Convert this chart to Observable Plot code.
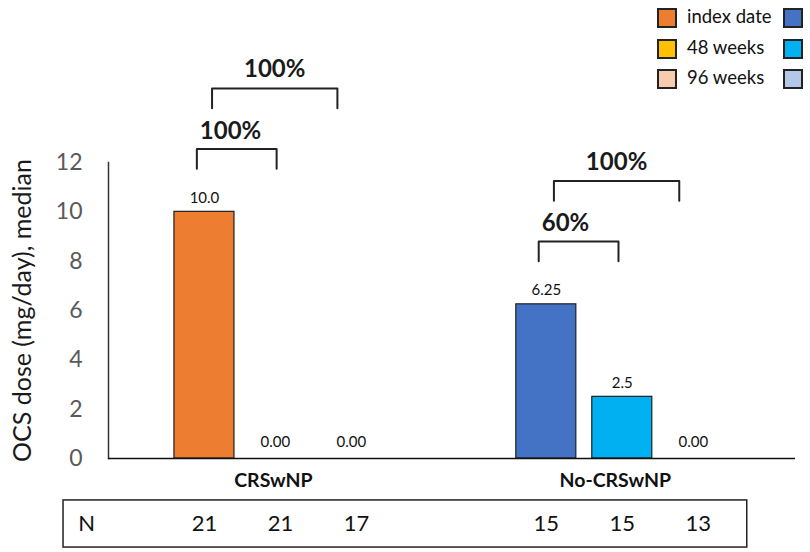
<!DOCTYPE html>
<html>
<head>
<meta charset="utf-8">
<script src="https://cdn.jsdelivr.net/npm/d3@7"></script>
<script src="https://cdn.jsdelivr.net/npm/@observablehq/plot@0.6"></script>
<style>
  html, body { margin: 0; padding: 0; background: #fff; }
  #wrap { position: relative; width: 810px; height: 552px; font-family: Lato, "Open Sans", sans-serif; }
  #legend { position: absolute; left: 657px; top: 8px; }
  .lrow { position: absolute; height: 20px; width: 150px; }
  .sw { position: absolute; width: 20px; height: 20px; box-sizing: border-box; border: 2px solid #222; }
  .lt { position: absolute; left: 30px; top: -3px; font-size: 18.5px; color: #111; white-space: nowrap; }
  svg g[aria-label="y-axis tick label"] { fill: #595959; }
</style>
</head>
<body>
<div id="wrap"><div id="legend"></div></div>
<script>
// ---- data ----
const groups = ["CRSwNP", "No-CRSwNP"];
const timepoints = ["index date", "48 weeks", "96 weeks"];
const crswnpDose = [10.0, 0.00, 0.00];
const noCrswnpDose = [6.25, 2.5, 0.00];
const crswnpLabels = ["10.0", "0.00", "0.00"];
const noCrswnpLabels = ["6.25", "2.5", "0.00"];
const crswnpN = [21, 21, 17];
const noCrswnpN = [15, 15, 13];
const crswnpReduction = ["100%", "100%"];   // vs index date at 48 and 96 weeks
const noCrswnpReduction = ["60%", "100%"];
const yTicks = [0, 2, 4, 6, 8, 10, 12];
const yTitle = "OCS dose (mg/day), median";

// ---- styles ----
const palette = {
  "CRSwNP": ["#ED7D31", "#FFC000", "#F8CBAD"],
  "No-CRSwNP": ["#4472C4", "#00B0F0", "#B4C7E7"]
};
const groupGap = 4.5;

const doses = [crswnpDose, noCrswnpDose];
const labels = [crswnpLabels, noCrswnpLabels];
const counts = [crswnpN, noCrswnpN];
const reductions = [crswnpReduction, noCrswnpReduction];
const slot = (g, t) => g * groupGap + t;

const bars = [];
groups.forEach((g, gi) => timepoints.forEach((t, ti) => bars.push({
  group: g, time: t, key: g + "|" + t, slot: slot(gi, ti),
  value: doses[gi][ti], label: labels[gi][ti], n: counts[gi][ti]
})));

const halfW = 0.395;
const bracketPts = [], bracketText = [];
groups.forEach((g, gi) => {
  const maxV = d3.max(doses[gi]);
  reductions[gi].forEach((r, k) => {
    const top = maxV + 2.55 + k * 2.45, arm = 0.8;
    const x1 = slot(gi, 0) + (k === 0 ? -0.1 : 0.1);
    const x2 = slot(gi, k + 1) + (k === 0 ? -0.05 : -0.25);
    const id = g + k;
    bracketPts.push({id, x: x1, y: top - arm}, {id, x: x1, y: top}, {id, x: x2, y: top}, {id, x: x2, y: top - arm});
    bracketText.push({label: r, x: k === 0 ? x1 : (x1 + x2) / 2, y: top, anchor: k === 0 ? "start" : "middle"});
  });
});

const colorDomain = bars.map(d => d.key);
const colorRange = groups.flatMap(g => palette[g]);

const font = "Lato, 'Open Sans', sans-serif";

const chart = Plot.plot({
  width: 810,
  height: 552,
  marginLeft: 108,
  marginRight: 15,
  marginTop: 162,
  marginBottom: 94,
  style: {fontFamily: font, background: "transparent", overflow: "visible"},
  x: {type: "linear", domain: [-1.263, 7.78], axis: null},
  y: {domain: [0, 12], axis: null},
  color: {type: "ordinal", domain: colorDomain, range: colorRange},
  marks: [
    Plot.axisY({ticks: yTicks, tickSize: 0, tickPadding: 26, fontSize: 23, label: null, color: "#595959"}),
    Plot.frame({anchor: "left", stroke: "#333", strokeWidth: 1.5}),
    Plot.text([yTitle], {frameAnchor: "left", rotate: -90, textAnchor: "middle", dx: -86, fontSize: 25, fill: "#1a1a1a"}),
    Plot.rect(bars.filter(d => d.value > 0), {
      x1: d => d.slot - halfW, x2: d => d.slot + halfW, y1: 0, y2: "value",
      fill: "key", stroke: "#1f1f1f", strokeWidth: 1.2
    }),
    Plot.ruleY([0], {stroke: "#111", strokeWidth: 1.5}),
    // value labels
    Plot.text(bars.filter(d => d.value > 0), {x: "slot", y: "value", text: "label", fontSize: 15, fill: "#111", dy: -14}),
    Plot.text(bars.filter(d => d.value === 0), {x: "slot", y: "value", text: "label", fontSize: 15, fill: "#111", dy: -16, dx: -5}),
    // group labels
    Plot.text(groups, {x: (d, i) => slot(i, 1), y: 0, text: d => d, dy: 22, dx: -7, fontSize: 19.5, fontWeight: "bold", fill: "#111"}),
    // brackets
    Plot.line(bracketPts, {x: "x", y: "y", z: "id", stroke: "#222", strokeWidth: 2}),
    Plot.text(bracketText.filter(d => d.anchor === "start"), {x: "x", y: "y", text: "label", textAnchor: "start", dy: -18, dx: 3, fontSize: 24, fontWeight: "bold", fill: "#1a1a1a"}),
    Plot.text(bracketText.filter(d => d.anchor === "middle"), {x: "x", y: "y", text: "label", dy: -19, fontSize: 24, fontWeight: "bold", fill: "#1a1a1a"}),
    // N table
    Plot.rect([0], {x1: -1.855, x2: 7.145, y1: -1.70, y2: -3.61, fill: "none", stroke: "#222", strokeWidth: 1.5}),
    Plot.text(["N"], {x: -1.855, y: -2.65, text: d => d, dx: 23, fontSize: 22, fill: "#111"}),
    Plot.text(bars, {x: "slot", y: -2.65, text: "n", fontSize: 22, fill: "#111"})
  ]
});

document.getElementById("wrap").appendChild(chart);

// legend
const legend = document.getElementById("legend");
timepoints.forEach((t, i) => {
  const row = document.createElement("div");
  row.className = "lrow";
  row.style.top = (i * 30.5) + "px";
  row.innerHTML = `<div class="sw" style="left:0;background:${palette["CRSwNP"][i]}"></div>` +
    `<div class="lt">${t}</div>` +
    `<div class="sw" style="left:126px;background:${palette["No-CRSwNP"][i]}"></div>`;
  legend.appendChild(row);
});
</script>
</body>
</html>
